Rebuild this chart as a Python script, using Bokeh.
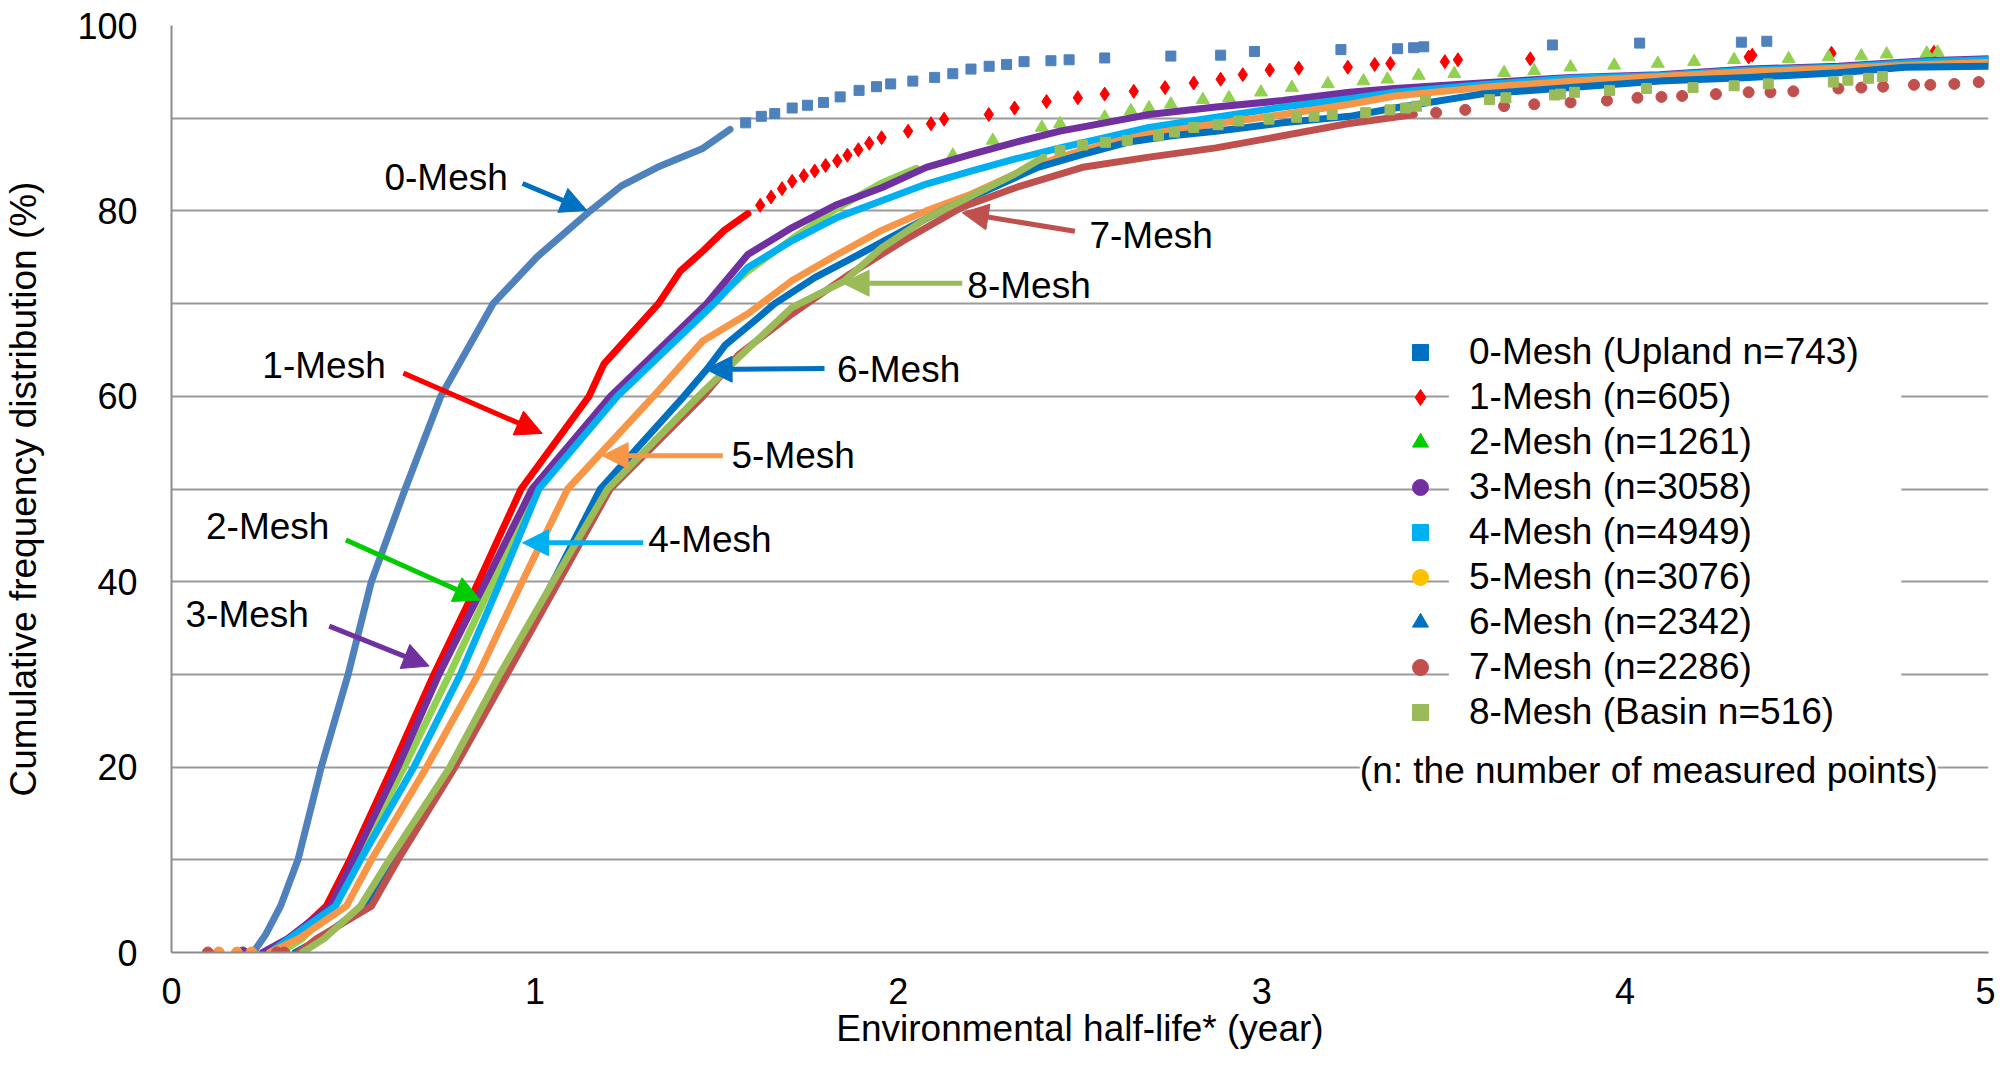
from bokeh.plotting import figure
from bokeh.models import (FixedTicker, Legend, LegendItem, Label, Arrow, NormalHead,
                          BoxAnnotation, Range1d)
from bokeh.embed import file_html
from bokeh.resources import INLINE

FONT = "Liberation Sans"
NAN = float("nan")

# ---------------- axes / ticks ----------------
x_ticks = [0, 1, 2, 3, 4, 5]
y_ticks = [0, 20, 40, 60, 80, 100]
y_grid = [0, 10, 20, 30, 40, 50, 60, 70, 80, 90, 100]

# ---------------- series ----------------
# 0-Mesh
m0_line_x = [0.225, 0.26, 0.30, 0.348, 0.412, 0.486, 0.55, 0.643, 0.741, 0.885, 1.005, 1.152, 1.238, 1.337, 1.46, 1.537]
m0_line_y = [0, 2, 5, 10, 20, 30, 40, 50, 60, 70, 75, 80, 82.7, 84.7, 86.7, 88.8]
m0_pts_x = [1.58, 1.623, 1.66, 1.708, 1.75, 1.794, 1.84, 1.892, 1.94, 1.979, 2.04, 2.10, 2.15, 2.20, 2.25, 2.298,
            2.346, 2.42, 2.47, 2.568, 2.75, 2.887, 2.98, 3.218, 3.374, 3.418, 3.446, 3.80, 4.04, 4.32, 4.39]
m0_pts_y = [89.5, 90.2, 90.5, 91.1, 91.4, 91.7, 92.3, 93.0, 93.4, 93.7, 94.0, 94.4, 94.8, 95.3, 95.6, 95.8,
            96.1, 96.2, 96.3, 96.5, 96.7, 96.8, 97.2, 97.4, 97.5, 97.6, 97.7, 97.9, 98.1, 98.2, 98.3]
# 1-Mesh
m1_line_x = [0.27, 0.33, 0.426, 0.491, 0.608, 0.722, 0.845, 0.962, 1.149, 1.19, 1.34, 1.40, 1.463, 1.521, 1.586]
m1_line_y = [0, 1.5, 5, 10, 20, 30, 40, 50, 60, 63.5, 70, 73.5, 75.7, 77.9, 79.7]
m1_pts_x = [1.62, 1.65, 1.68, 1.708, 1.74, 1.77, 1.80, 1.832, 1.86, 1.89, 1.92, 1.954, 2.027, 2.09, 2.126, 2.249,
            2.32, 2.408, 2.494, 2.568, 2.648, 2.734, 2.813, 2.887, 2.948, 3.022, 3.102, 3.237, 3.311, 3.354, 3.504,
            3.54, 3.739, 4.34, 4.35, 4.568, 4.85]
m1_pts_y = [80.6, 81.5, 82.4, 83.2, 83.8, 84.3, 84.9, 85.4, 86.0, 86.6, 87.3, 87.9, 88.6, 89.4, 89.9, 90.4,
            91.1, 91.8, 92.2, 92.6, 92.9, 93.3, 93.8, 94.2, 94.7, 95.2, 95.4, 95.5, 95.8, 95.9, 96.1,
            96.3, 96.4, 96.6, 96.8, 97.0, 97.1]
# 2-Mesh
m2_line_x = [0.30, 0.36, 0.445, 0.51, 0.64, 0.765, 0.885, 1.0, 1.218, 1.463, 1.586, 1.708, 1.832, 1.954, 2.05]
m2_line_y = [0, 1.5, 5, 10, 20, 30, 40, 50, 60, 69.3, 73.5, 77.0, 80.3, 83.0, 84.6]
m2_pts_x = [2.15, 2.26, 2.395, 2.445, 2.568, 2.64, 2.69, 2.75, 2.838, 2.91, 2.998, 3.083, 3.182, 3.28, 3.346,
            3.432, 3.53, 3.667, 3.75, 3.85, 3.97, 4.09, 4.19, 4.30, 4.45, 4.56, 4.65, 4.72, 4.83, 4.86]
m2_pts_y = [86.0, 87.6, 89.0, 89.4, 90.1, 90.8, 91.1, 91.5, 92.0, 92.2, 92.8, 93.3, 93.7, 94.0, 94.2,
            94.6, 94.8, 94.9, 95.1, 95.5, 95.7, 95.9, 96.1, 96.3, 96.4, 96.6, 96.7, 96.9, 97.0, 97.1]
# 3-Mesh
m3_line_x = [0.25, 0.32, 0.437, 0.50, 0.623, 0.736, 0.865, 0.992, 1.208, 1.473, 1.586, 1.708, 1.832, 1.954, 2.077,
             2.2, 2.322, 2.445, 2.568, 2.69, 2.874, 3.058, 3.242, 3.366, 3.604, 3.85, 4.095, 4.34, 4.587, 4.83, 5.0]
m3_line_y = [0, 1.5, 5, 10, 20, 30, 40, 50, 60, 70, 75.3, 78.2, 80.7, 82.5, 84.7,
             86.1, 87.4, 88.6, 89.5, 90.4, 91.2, 91.9, 92.8, 93.2, 93.8, 94.4, 94.7, 95.3, 95.6, 96.2, 96.4]
m3_pts_x = [0.196]
m3_pts_y = [0]
# 4-Mesh
m4_line_x = [0.27, 0.324, 0.451, 0.52, 0.667, 0.795, 0.905, 1.011, 1.227, 1.493, 1.586, 1.708, 1.832, 1.954, 2.077,
             2.2, 2.322, 2.445, 2.568, 2.69, 2.874, 3.058, 3.242, 3.366, 3.604, 3.85, 4.095, 4.34, 4.587, 4.83, 5.0]
m4_line_y = [0, 1.5, 5, 10, 20, 30, 40, 50, 60, 70, 73.9, 76.8, 79.3, 81.1, 82.9,
             84.3, 85.6, 86.8, 87.9, 89.0, 90.1, 91.2, 92.1, 92.8, 93.6, 94.3, 94.6, 95.2, 95.5, 96.1, 96.3]
# 5-Mesh
m5_line_x = [0.27, 0.35, 0.481, 0.55, 0.702, 0.844, 0.965, 1.09, 1.326, 1.463, 1.586, 1.708, 1.832, 1.954, 2.077,
             2.2, 2.322, 2.445, 2.568, 2.69, 2.874, 3.058, 3.242, 3.366, 3.604, 3.85, 4.095, 4.34, 4.587, 4.83, 5.0]
m5_line_y = [0, 1.5, 5, 10, 20, 30, 40, 50, 60, 66.0, 68.9, 72.5, 75.3, 77.9, 80.0,
             81.8, 84.0, 85.8, 87.2, 88.3, 89.4, 90.4, 91.5, 92.4, 93.3, 94.0, 94.5, 95.0, 95.4, 95.8, 96.0]
m5_pts_x = [0.13, 0.18, 0.22]
m5_pts_y = [0, 0, 0]
# 6-Mesh
m6_line_x = [0.34, 0.41, 0.53, 0.615, 0.775, 0.915, 1.05, 1.18, 1.41, 1.475, 1.523, 1.60, 1.66, 1.77, 1.892, 2.015,
             2.138, 2.26, 2.384, 2.507, 2.63, 2.752, 2.874, 3.058, 3.242, 3.366, 3.604, 3.85, 4.095, 4.34, 4.587,
             4.77, 5.0]
m6_line_y = [0, 1.5, 5, 10, 20, 30, 40, 50, 60, 63, 65.5, 68, 70, 72.8, 75.3, 77.9,
             80.4, 82.5, 84.7, 86.1, 87.4, 88.1, 88.6, 89.5, 90.2, 91.1, 92.6, 93.3, 94.0, 94.4, 94.9,
             95.5, 95.6]
# 7-Mesh
m7_line_x = [0.35, 0.40, 0.55, 0.623, 0.78, 0.923, 1.065, 1.207, 1.463, 1.561, 1.708, 1.867, 2.015, 2.175, 2.322,
             2.507, 2.69, 2.874, 3.058, 3.236, 3.42]
m7_line_y = [0, 1.5, 5, 10, 20, 30, 40, 50, 60, 64.5, 68.9, 73.2, 76.8, 80.4, 82.5,
             84.7, 85.8, 86.8, 88.1, 89.4, 90.4]
m7_pts_x = [0.10, 0.29, 0.31, 3.48, 3.56, 3.667, 3.75, 3.85, 3.95, 4.034, 4.10, 4.157, 4.25, 4.34, 4.40, 4.463,
            4.587, 4.65, 4.71, 4.795, 4.84, 4.906, 4.973]
m7_pts_y = [0, 0, 0, 90.6, 90.9, 91.3, 91.5, 91.7, 91.9, 92.2, 92.3, 92.4, 92.6, 92.8, 92.8, 92.9,
            93.2, 93.3, 93.4, 93.6, 93.6, 93.7, 93.9]
# 8-Mesh
m8_line_x = [0.36, 0.42, 0.52, 0.599, 0.766, 0.903, 1.05, 1.20, 1.45, 1.561, 1.708, 1.85, 1.954, 2.077, 2.2, 2.322, 2.40]
m8_line_y = [0, 1.5, 5, 10, 20, 30, 40, 50, 60, 64.2, 69.6, 72.4, 76.0, 79.2, 81.6, 84.0, 85.8]
m8_pts_x = [2.445, 2.507, 2.57, 2.63, 2.716, 2.76, 2.813, 2.88, 2.937, 3.02, 3.096, 3.144, 3.194, 3.286, 3.353,
            3.396, 3.426, 3.451, 3.627, 3.672, 3.806, 3.822, 3.861, 3.957, 4.059, 4.187, 4.30, 4.394, 4.573,
            4.613, 4.67, 4.708]
m8_pts_y = [86.5, 87.1, 87.4, 87.6, 88.1, 88.5, 89.0, 89.3, 89.7, 89.9, 90.1, 90.2, 90.4, 90.6, 90.9,
            91.1, 91.3, 91.9, 92.0, 92.2, 92.5, 92.6, 92.8, 93.0, 93.2, 93.3, 93.5, 93.7, 93.9,
            94.1, 94.3, 94.5]

series_colors = ["#4F81BD", "#FF0000", "#92D050", "#7030A0", "#00B0F0", "#F79646", "#0070C0", "#C0504D", "#9BBB59"]
series_markers = ["square", "diamond", "triangle", "circle", "square", "circle", "triangle", "circle", "square"]

# legend
legend_labels = ["0-Mesh (Upland n=743)", "1-Mesh (n=605)", "2-Mesh (n=1261)", "3-Mesh (n=3058)",
                 "4-Mesh (n=4949)", "5-Mesh (n=3076)", "6-Mesh (n=2342)", "7-Mesh (n=2286)",
                 "8-Mesh (Basin n=516)"]
legend_colors = ["#0070C0", "#FF0000", "#00CC00", "#7030A0", "#00B0F0", "#FFC000", "#0070C0", "#C0504D", "#9BBB59"]
note_text = "(n: the number of measured points)"

# curve annotations (label anchor and arrow start/end, data units)
ann_text = ["0-Mesh", "1-Mesh", "2-Mesh", "3-Mesh", "4-Mesh", "5-Mesh", "6-Mesh", "7-Mesh", "8-Mesh"]
ann_x = [0.586, 0.25, 0.095, 0.0385, 1.312, 1.541, 1.831, 2.526, 2.19]
ann_y = [83.65, 63.3, 46.0, 36.5, 44.5, 53.6, 62.9, 77.3, 72.0]
arr_x0 = [0.966, 0.638, 0.48, 0.434, 1.298, 1.517, 1.797, 2.486, 2.176]
arr_y0 = [82.96, 62.5, 44.5, 35.2, 44.2, 53.6, 63.0, 77.8, 72.2]
arr_x1 = [1.143, 1.02, 0.85, 0.709, 0.966, 1.185, 1.471, 2.176, 1.848]
arr_y1 = [80.05, 56.0, 38.0, 30.9, 44.2, 53.6, 62.9, 79.8, 72.2]
arr_colors = ["#0070C0", "#FF0000", "#00CC00", "#7030A0", "#00B0F0", "#F79646", "#0070C0", "#C0504D", "#9BBB59"]

# ---------------- figure ----------------
p = figure(width=1995, height=1053, x_range=Range1d(0, 5), y_range=Range1d(0, 100),
           output_backend="svg", toolbar_location=None,
           min_border_left=160, min_border_right=7, min_border_top=25, min_border_bottom=101)
p.outline_line_color = None
p.background_fill_color = "white"
p.border_fill_color = "white"

AX = "#8C8C8C"
for ax in (p.xaxis[0], p.yaxis[0]):
    ax.axis_line_color = AX
    ax.axis_line_width = 2
    ax.major_tick_line_color = None
    ax.minor_tick_line_color = None
    ax.major_label_text_font = FONT
    ax.major_label_text_font_size = "36px"
    ax.major_label_text_color = "black"
    ax.axis_label_text_font = FONT
    ax.axis_label_text_font_size = "37px"
    ax.axis_label_text_font_style = "normal"
    ax.axis_label_text_color = "black"

p.xaxis.ticker = FixedTicker(ticks=x_ticks)
p.yaxis.ticker = FixedTicker(ticks=y_ticks)
p.xaxis.axis_label = "Environmental half-life* (year)"
p.yaxis.axis_label = "Cumulative frequency distribution (%)"
p.xaxis.major_label_standoff = 19
p.xaxis.axis_label_standoff = 1
p.yaxis.major_label_standoff = 28
p.yaxis.axis_label_standoff = 30

p.xgrid.visible = False
p.ygrid.ticker = FixedTicker(ticks=y_grid)
p.ygrid.grid_line_color = "#9A9A9A"
p.ygrid.grid_line_width = 2

lines = [(m0_line_x, m0_line_y), (m1_line_x, m1_line_y), (m2_line_x, m2_line_y), (m3_line_x, m3_line_y),
         (m4_line_x, m4_line_y), (m5_line_x, m5_line_y), (m6_line_x, m6_line_y), (m7_line_x, m7_line_y),
         (m8_line_x, m8_line_y)]
pts = [(m0_pts_x, m0_pts_y), (m1_pts_x, m1_pts_y), (m2_pts_x, m2_pts_y), (m3_pts_x, m3_pts_y),
       ([], []), (m5_pts_x, m5_pts_y), ([], []), (m7_pts_x, m7_pts_y), (m8_pts_x, m8_pts_y)]
marker_sizes = [10, 14, 13, 11, 10, 11, 13, 11, 10]

for i in range(9):
    lx, ly = lines[i]
    p.line(lx, ly, line_color=series_colors[i], line_width=7, line_join="round", line_cap="round")
    px, py = pts[i]
    if px:
        p.scatter(px, py, marker=series_markers[i], size=marker_sizes[i],
                  fill_color=series_colors[i], line_color=series_colors[i])

# arrows + labels
for i in range(len(ann_text)):
    c = arr_colors[i]
    p.add_layout(Arrow(x_start=arr_x0[i], y_start=arr_y0[i], x_end=arr_x1[i], y_end=arr_y1[i],
                       line_color=c, line_width=5,
                       end=NormalHead(size=26, fill_color=c, line_color=c, line_width=1)))
    p.add_layout(Label(x=ann_x[i], y=ann_y[i], text=ann_text[i], text_font=FONT, text_font_size="37px",
                       text_align="left", text_baseline="middle", text_color="black"))

# legend white panel behind the label column
p.add_layout(BoxAnnotation(left=3.515, right=4.76, top=67.3, bottom=23.5,
                           fill_color="white", fill_alpha=1.0, line_alpha=0))

# legend-only glyphs (a single NaN point: nothing drawn in the plot area)
legend_sizes = [16, 24, 28, 20, 16, 20, 28, 20, 16]
items = []
for i in range(9):
    r = p.scatter([NAN], [NAN], marker=series_markers[i], size=legend_sizes[i],
                  fill_color=legend_colors[i], line_color=legend_colors[i])
    items.append(LegendItem(label=legend_labels[i], renderers=[r]))

legend = Legend(items=items, location=(1229, 219), background_fill_alpha=0, border_line_alpha=0,
                padding=0, margin=0, spacing=3, glyph_height=40, glyph_width=40, label_height=40,
                label_standoff=29, label_text_font=FONT, label_text_font_size="37px",
                label_text_color="black")
p.add_layout(legend)

p.add_layout(Label(x=3.27, y=19.6, text=note_text, text_font=FONT, text_font_size="37px",
                   text_align="left", text_baseline="middle", text_color="black",
                   background_fill_color="white", background_fill_alpha=1.0))

open("out.html", "w").write(file_html(p, INLINE))
